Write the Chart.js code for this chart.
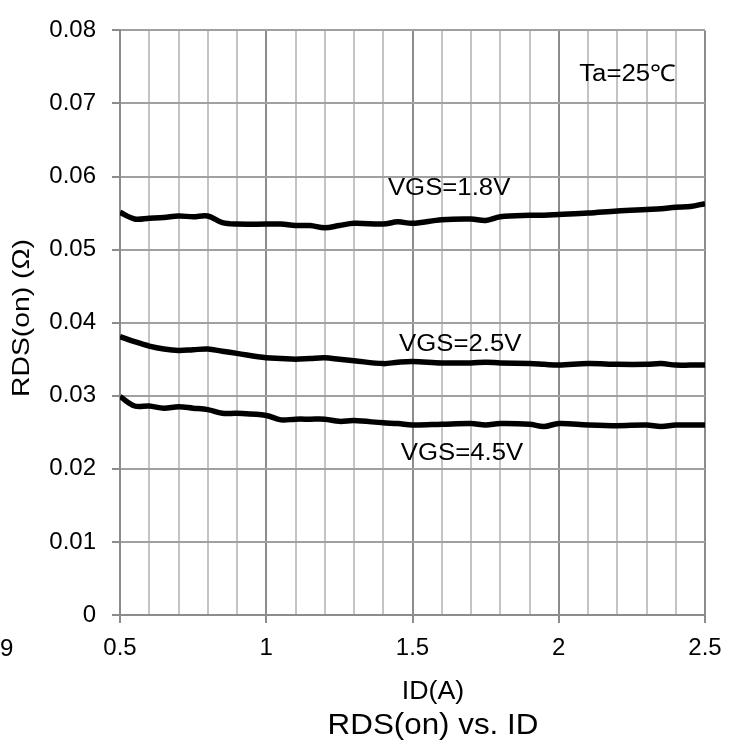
<!DOCTYPE html>
<html>
<head>
<meta charset="utf-8">
<script src="https://cdn.jsdelivr.net/npm/chart.js@4/dist/chart.umd.min.js"></script>
<style>
  html, body { margin: 0; padding: 0; background: #fff; }
  #wrap { width: 739px; height: 751px; }
</style>
</head>
<body>
<div id="wrap"><canvas id="chart" width="739" height="751"></canvas></div>
<script>
// drain current ID (A)
const currentA = [0.5, 0.55, 0.6, 0.65, 0.7, 0.75, 0.8, 0.85, 0.9, 1.0, 1.05, 1.1, 1.15, 1.2, 1.25, 1.3,
  1.4, 1.45, 1.5, 1.6, 1.7, 1.75, 1.8, 1.9, 1.95, 2.0, 2.1, 2.2, 2.3, 2.35, 2.4, 2.45, 2.5];

// RDS(on) in ohm for each gate voltage
const rds18 = [0.0551, 0.0542, 0.0543, 0.0544, 0.0546, 0.0545, 0.0546, 0.0537, 0.0535, 0.0535, 0.0535, 0.0533, 0.0533, 0.0530, 0.0533, 0.0536,
  0.0535, 0.0538, 0.0536, 0.0541, 0.0542, 0.0540, 0.0545, 0.0547, 0.0547, 0.0548, 0.0550, 0.0553, 0.0555, 0.0556, 0.0558, 0.0559, 0.0563];
const rds25 = [0.0381, 0.0374, 0.0368, 0.0364, 0.0362, 0.0363, 0.0364, 0.0361, 0.0358, 0.0352, 0.0351, 0.0350, 0.0351, 0.0352, 0.0350, 0.0348,
  0.0344, 0.0346, 0.0347, 0.0345, 0.0345, 0.0346, 0.0345, 0.0344, 0.0343, 0.0342, 0.0344, 0.0343, 0.0343, 0.0344, 0.0342, 0.0342, 0.0342];
const rds45 = [0.0299, 0.0286, 0.0286, 0.0283, 0.0285, 0.0283, 0.0281, 0.0276, 0.0276, 0.0273, 0.0267, 0.0268, 0.0268, 0.0268, 0.0265, 0.0266,
  0.0263, 0.0262, 0.0260, 0.0261, 0.0262, 0.0260, 0.0262, 0.0261, 0.0258, 0.0262, 0.0260, 0.0259, 0.0260, 0.0258, 0.0260, 0.0260, 0.0260];

const yTicks = [0, 0.01, 0.02, 0.03, 0.04, 0.05, 0.06, 0.07, 0.08];
const xTickLabels = [0.5, 1, 1.5, 2, 2.5];

const FONT = '"Liberation Sans", Arial, sans-serif';

function toPoints(ys) {
  return currentA.map((x, i) => ({ x: x, y: ys[i] }));
}

function isMajorX(v) {
  return xTickLabels.some(t => Math.abs(t - v) < 1e-6);
}

// curve labels placed in data units
const curveLabels = [
  { text: 'Ta=25\u2103', x: 2.07, y: 0.0739 },
  { text: 'VGS=1.8V', x: 1.416, y: 0.0583 },
  { text: 'VGS=2.5V', x: 1.454, y: 0.0370 },
  { text: 'VGS=4.5V', x: 1.46, y: 0.0221 }
];

// the source text is a little wider than the font, so stretch it slightly
function stretchText(ctx, text, x, y, sx) {
  ctx.save();
  ctx.translate(x, y);
  ctx.scale(sx, 1);
  ctx.fillText(text, 0, 0);
  ctx.restore();
}

const textPlugin = {
  id: 'texts',
  afterDraw(chart) {
    const ctx = chart.ctx;
    const xs = chart.scales.x, ys = chart.scales.y;
    ctx.save();
    ctx.fillStyle = '#000';
    ctx.textBaseline = 'middle';

    ctx.font = '23px ' + FONT;
    ctx.textAlign = 'left';
    curveLabels.forEach(l => {
      stretchText(ctx, l.text, xs.getPixelForValue(l.x), ys.getPixelForValue(l.y), 1.12);
    });

    // leftover clipped tick label at the far left
    ctx.font = '24px ' + FONT;
    ctx.fillText('9', 0, 649);

    ctx.textAlign = 'center';
    ctx.font = '25px ' + FONT;
    stretchText(ctx, 'ID(A)', 433, 692, 1.07);
    ctx.font = '30px ' + FONT;
    stretchText(ctx, 'RDS(on) vs. ID', 433, 726, 1.045);

    ctx.translate(22, 318);
    ctx.rotate(-Math.PI / 2);
    ctx.font = '24px ' + FONT;
    stretchText(ctx, 'RDS(on) (\u03A9)', 0, 0, 1.18);
    ctx.restore();
  }
};

new Chart(document.getElementById('chart'), {
  type: 'line',
  data: {
    datasets: [
      { label: 'VGS=1.8V', data: toPoints(rds18) },
      { label: 'VGS=2.5V', data: toPoints(rds25) },
      { label: 'VGS=4.5V', data: toPoints(rds45) }
    ].map(d => Object.assign(d, {
      borderColor: '#000',
      borderWidth: 5.5,
      pointRadius: 0,
      tension: 0.35,
      fill: false
    }))
  },
  options: {
    responsive: false,
    animation: false,
    layout: { padding: { top: 20, right: 34, bottom: 0, left: 0 } },
    plugins: { legend: { display: false }, tooltip: { enabled: false } },
    scales: {
      x: {
        type: 'linear',
        min: 0.5,
        max: 2.5,
        afterFit(scale) { scale.height = 136; },
        afterBuildTicks(scale) {
          const t = [];
          for (let i = 0; i <= 20; i++) t.push({ value: +(0.5 + i * 0.1).toFixed(1) });
          scale.ticks = t;
        },
        border: { display: true, color: '#8c8c8c', width: 2 },
        grid: {
          color: c => isMajorX(c.tick.value) ? '#8c8c8c' : '#c4c4c4',
          tickColor: c => isMajorX(c.tick.value) ? '#8c8c8c' : 'rgba(0,0,0,0)',
          lineWidth: 2,
          tickWidth: 2,
          tickLength: 8,
          drawOnChartArea: true
        },
        ticks: {
          autoSkip: false,
          maxRotation: 0,
          padding: 11,
          color: '#000',
          font: { family: FONT, size: 24 },
          callback: v => isMajorX(v) ? String(+v.toFixed(1)) : ''
        }
      },
      y: {
        min: 0,
        max: 0.08,
        afterFit(scale) { scale.width = 120; },
        afterBuildTicks(scale) {
          scale.ticks = yTicks.map(v => ({ value: v }));
        },
        border: { display: true, color: '#8c8c8c', width: 2 },
        grid: {
          color: '#a0a0a0',
          tickColor: '#8c8c8c',
          lineWidth: 2,
          tickWidth: 2,
          tickLength: 8
        },
        ticks: {
          padding: 16,
          color: '#000',
          font: { family: FONT, size: 24 },
          callback: v => v === 0 ? '0' : v.toFixed(2)
        }
      }
    }
  },
  plugins: [textPlugin]
});
</script>
</body>
</html>
